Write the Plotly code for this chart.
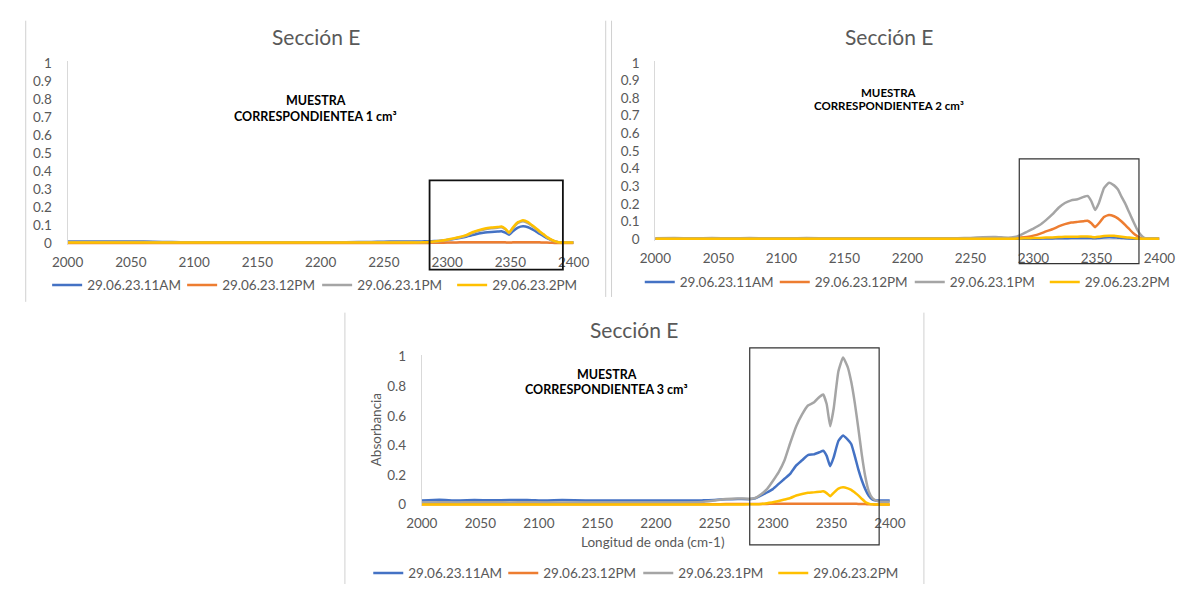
import plotly.graph_objects as go

W, H = 1190, 590

# ---------------- data ----------------
wavenumber = [2000, 2015, 2030, 2045, 2060, 2075, 2090, 2105, 2120, 2140, 2160, 2180, 2200, 2220, 2240, 2250, 2260, 2270,
              2280, 2285, 2290, 2295, 2300, 2305, 2310, 2315, 2320, 2325,
              2330, 2335, 2340, 2343, 2346, 2349, 2352, 2356, 2360, 2364,
              2367, 2370, 2373, 2376, 2379, 2382, 2385, 2388, 2391, 2395, 2400]

series_names = ["29.06.23.11AM", "29.06.23.12PM", "29.06.23.1PM", "29.06.23.2PM"]
series_colors = ["#4472C4", "#ED7D31", "#A5A5A5", "#FFC000"]

# Panel 1 : 1 cm3
p1_11am = [0.009, 0.009, 0.009, 0.009, 0.009, 0.006, 0.005, 0.005, 0.005, 0.005, 0.005, 0.005, 0.005, 0.005, 0.006, 0.008, 0.009, 0.009,
           0.009, 0.010, 0.011, 0.013, 0.017, 0.022, 0.028, 0.035, 0.044, 0.053,
           0.059, 0.062, 0.064, 0.066, 0.058, 0.046, 0.066, 0.086, 0.093, 0.088,
           0.078, 0.066, 0.052, 0.040, 0.028, 0.018, 0.009, 0.005, 0.005, 0.005, 0.005]
p1_12pm = [0.001] * 18 + [
           0.001, 0.001, 0.002, 0.002, 0.003, 0.003, 0.004, 0.004, 0.005, 0.005,
           0.005, 0.005, 0.005, 0.005, 0.004, 0.003, 0.004, 0.005, 0.005, 0.005,
           0.005, 0.004, 0.004, 0.003, 0.003, 0.002, 0.001, 0.001, 0.001, 0.001, 0.001]
p1_1pm = [0.006, 0.006, 0.006, 0.006, 0.006, 0.004, 0.004, 0.004, 0.004, 0.004, 0.004, 0.004, 0.004, 0.004, 0.004, 0.005, 0.006, 0.006,
          0.004, 0.006, 0.008, 0.012, 0.017, 0.024, 0.031, 0.040, 0.056, 0.068,
          0.077, 0.082, 0.085, 0.088, 0.076, 0.055, 0.082, 0.111, 0.121, 0.111,
          0.096, 0.080, 0.062, 0.047, 0.031, 0.019, 0.010, 0.005, 0.004, 0.004, 0.004]
p1_2pm = [0.003] * 18 + [
          0.004, 0.006, 0.009, 0.013, 0.019, 0.026, 0.034, 0.044, 0.060, 0.072,
          0.081, 0.086, 0.089, 0.092, 0.080, 0.058, 0.086, 0.116, 0.126, 0.116,
          0.100, 0.084, 0.066, 0.050, 0.033, 0.021, 0.011, 0.005, 0.003, 0.003, 0.003]

# Panel 2 : 2 cm3
p2_11am = [0.002] * 18 + [
           0.002, 0.002, 0.002, 0.003, 0.003, 0.003, 0.004, 0.004, 0.005, 0.005,
           0.006, 0.006, 0.007, 0.007, 0.006, 0.005, 0.007, 0.009, 0.011, 0.010,
           0.008, 0.007, 0.005, 0.004, 0.003, 0.002, 0.002, 0.002, 0.002, 0.002, 0.002]
p2_12pm = [0.004, 0.004, 0.004, 0.004, 0.004, 0.004, 0.004, 0.004, 0.004, 0.004, 0.004, 0.004, 0.004, 0.004, 0.004, 0.004, 0.005, 0.006,
           0.005, 0.006, 0.009, 0.013, 0.020, 0.030, 0.044, 0.056, 0.072, 0.085,
           0.094, 0.098, 0.102, 0.104, 0.090, 0.068, 0.090, 0.126, 0.137, 0.130,
           0.118, 0.100, 0.080, 0.058, 0.036, 0.019, 0.007, 0.003, 0.003, 0.003, 0.003]
p2_1pm = [0.005, 0.006, 0.005, 0.006, 0.005, 0.006, 0.005, 0.005, 0.006, 0.005, 0.005, 0.005, 0.005, 0.005, 0.005, 0.007, 0.011, 0.012,
          0.008, 0.012, 0.024, 0.042, 0.060, 0.080, 0.108, 0.140, 0.178, 0.205,
          0.220, 0.226, 0.240, 0.245, 0.215, 0.165, 0.205, 0.290, 0.320, 0.305,
          0.283, 0.240, 0.200, 0.152, 0.105, 0.060, 0.026, 0.007, 0.005, 0.005, 0.005]
p2_2pm = [0.003] * 18 + [
          0.003, 0.003, 0.004, 0.005, 0.006, 0.007, 0.009, 0.010, 0.012, 0.013,
          0.014, 0.014, 0.015, 0.015, 0.013, 0.011, 0.014, 0.018, 0.020, 0.019,
          0.017, 0.014, 0.011, 0.009, 0.006, 0.004, 0.003, 0.002, 0.002, 0.002, 0.002]

# Panel 3 : 3 cm3
p3_11am = [0.028, 0.033, 0.028, 0.031, 0.029, 0.031, 0.032, 0.028, 0.031, 0.028, 0.028, 0.028, 0.028, 0.028, 0.029, 0.032, 0.036, 0.038,
           0.037, 0.043, 0.062, 0.082, 0.105, 0.140, 0.175, 0.210, 0.265, 0.300,
           0.335, 0.340, 0.355, 0.364, 0.330, 0.260, 0.320, 0.430, 0.468, 0.440,
           0.410, 0.330, 0.240, 0.165, 0.105, 0.060, 0.035, 0.028, 0.028, 0.028, 0.028]
p3_12pm = [0.002] * 16 + [0.004, 0.005,
           0.005, 0.005, 0.005, 0.005, 0.006, 0.006, 0.006, 0.006, 0.006, 0.006,
           0.006, 0.006, 0.006, 0.006, 0.006, 0.006, 0.006, 0.006, 0.006, 0.006,
           0.006, 0.006, 0.005, 0.005, 0.004, 0.003, 0.002, 0.001, 0.001, 0.001, 0.001]
p3_1pm = [0.015, 0.016, 0.015, 0.016, 0.016, 0.015, 0.016, 0.015, 0.015, 0.015, 0.015, 0.015, 0.015, 0.015, 0.018, 0.028, 0.038, 0.042,
          0.040, 0.045, 0.070, 0.105, 0.160, 0.220, 0.300, 0.420, 0.530, 0.610,
          0.670, 0.690, 0.730, 0.745, 0.680, 0.530, 0.650, 0.900, 0.995, 0.930,
          0.830, 0.690, 0.520, 0.340, 0.190, 0.090, 0.045, 0.028, 0.020, 0.020, 0.020]
p3_2pm = [0.001] * 18 + [
          0.002, 0.003, 0.005, 0.010, 0.016, 0.025, 0.035, 0.045, 0.062, 0.072,
          0.080, 0.083, 0.087, 0.090, 0.078, 0.057, 0.080, 0.108, 0.117, 0.110,
          0.100, 0.082, 0.063, 0.040, 0.018, 0.007, 0.002, 0.001, 0.001, 0.001, 0.001]

x_ticks = [2000, 2050, 2100, 2150, 2200, 2250, 2300, 2350, 2400]
panel_title = "Sección E"
sample_labels = ["CORRESPONDIENTEA 1 cm³", "CORRESPONDIENTEA 2 cm³", "CORRESPONDIENTEA 3 cm³"]
y_title = "Absorbancia"
x_title = "Longitud de onda (cm-1)"

# ---------------- layout helpers ----------------
def px(x):
    return x / W

def py(y):
    return 1 - y / H

Y_RANGE = [-0.012, 1.012]

def y_domain(pix0, pix1):
    per = (pix0 - pix1)
    bottom = pix0 - Y_RANGE[0] * per
    top = pix0 - Y_RANGE[1] * per
    return [py(bottom), py(top)]

FONT = "Lato"
GREY_TXT = "#595959"
AX_LINE = "#D9D9D9"

panels = [
    dict(data=[p1_11am, p1_12pm, p1_1pm, p1_2pm], xpix=(53, 573), ypix=(242, 58), dtick=0.1,
         legend="legend", leg=(32, 285)),
    dict(data=[p2_11am, p2_12pm, p2_1pm, p2_2pm], xpix=(657, 1175), ypix=(238, 58), dtick=0.1,
         legend="legend2", leg=(641, 282)),
    dict(data=[p3_11am, p3_12pm, p3_1pm, p3_2pm], xpix=(417, 898), ypix=(509, 358), dtick=0.2,
         legend="legend3", leg=(362, 579)),
]

fig = go.Figure()
layout = dict(width=W, height=H, autosize=False, margin=dict(l=0, r=0, t=0, b=0),
              paper_bgcolor="white", plot_bgcolor="white",
              font=dict(family=FONT, color=GREY_TXT, size=13))

for i, p in enumerate(panels):
    k = "" if i == 0 else str(i + 1)
    for name, color, vals in zip(series_names, series_colors, p["data"]):
        fig.add_trace(go.Scatter(x=wavenumber, y=vals, mode="lines", name=name,
                                 line=dict(color=color, width=2.5, shape="spline", smoothing=0.4),
                                 xaxis="x" + k, yaxis="y" + k, legend=p["legend"]))
    layout["xaxis" + k] = dict(domain=[px(p["xpix"][0]), px(p["xpix"][1])], range=[2000, 2400],
                               tickvals=x_ticks, showgrid=False, zeroline=False, showline=False,
                               ticks="", ticklabelstandoff=7, tickfont=dict(size=13.5, color=GREY_TXT),
                               anchor="y" + k, fixedrange=True)
    layout["yaxis" + k] = dict(domain=y_domain(*p["ypix"]), range=Y_RANGE, dtick=p["dtick"], tick0=0,
                               showgrid=False, zeroline=True, zerolinecolor=AX_LINE, zerolinewidth=1,
                               showline=True, linecolor=AX_LINE, linewidth=1, ticks="",
                               ticklabelstandoff=12, tickfont=dict(size=13.5, color=GREY_TXT),
                               anchor="x" + k, fixedrange=True)
    layout[p["legend"]] = dict(orientation="h", x=px(p["leg"][0]), y=py(p["leg"][1]),
                               xanchor="left", yanchor="middle", itemwidth=30,
                               entrywidth=90, entrywidthmode="pixels",
                               font=dict(size=13.5, color=GREY_TXT), bgcolor="rgba(0,0,0,0)",
                               itemclick=False, itemdoubleclick=False)

annotations = []
for (cx, cy) in [(308, 31), (897, 31), (635, 330)]:
    annotations.append(dict(x=px(cx), y=py(cy), xref="paper", yref="paper", text=panel_title,
                            showarrow=False, font=dict(size=21, color=GREY_TXT, family=FONT),
                            xanchor="center", yanchor="middle"))
for label, (cx, y1, y2, fs) in zip(sample_labels, [(308, 96, 113, 12.5), (897, 88, 102, 11.5), (607, 376, 391, 12.5)]):
    annotations.append(dict(x=px(cx), y=py(y1), xref="paper", yref="paper", text="<b>MUESTRA</b>",
                            showarrow=False, font=dict(size=fs, color="black", family=FONT),
                            xanchor="center", yanchor="middle"))
    annotations.append(dict(x=px(cx), y=py(y2), xref="paper", yref="paper", text="<b>" + label + "</b>",
                            showarrow=False, font=dict(size=fs, color="black", family=FONT),
                            xanchor="center", yanchor="middle"))
annotations.append(dict(x=px(370), y=py(433), xref="paper", yref="paper", text=y_title, textangle=-90,
                        showarrow=False, font=dict(size=13.5, color=GREY_TXT, family=FONT),
                        xanchor="center", yanchor="middle"))
annotations.append(dict(x=px(655), y=py(547), xref="paper", yref="paper", text=x_title,
                        showarrow=False, font=dict(size=13.5, color=GREY_TXT, family=FONT),
                        xanchor="center", yanchor="middle"))
layout["annotations"] = annotations

shapes = []
for (x0, y0, x1, y1, wdt, col) in [(425, 178, 562, 269, 1.8, "#111111"),
                                    (1031, 156, 1154, 263, 1.2, "#333333"),
                                    (754, 349, 887, 550, 1.2, "#333333")]:
    shapes.append(dict(type="rect", xref="paper", yref="paper", x0=px(x0), x1=px(x1), y0=py(y0), y1=py(y1),
                       line=dict(color=col, width=wdt), fillcolor="rgba(0,0,0,0)"))
for (x, y0, y1) in [(10, 15, 302), (606, 15, 297), (612, 15, 297), (338, 313, 590), (933, 313, 590)]:
    shapes.append(dict(type="line", xref="paper", yref="paper", x0=px(x), x1=px(x), y0=py(y0), y1=py(y1),
                       line=dict(color="#D0D0D0", width=1)))
layout["shapes"] = shapes

fig.update_layout(**layout)
fig.write_html("out.html", config={"displayModeBar": False},
               post_script="document.body.style.margin='0';document.body.style.overflow='hidden';")
